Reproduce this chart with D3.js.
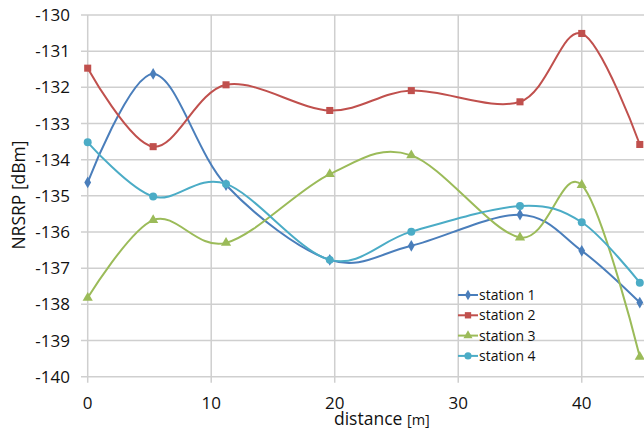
<!DOCTYPE html>
<html><head><meta charset="utf-8">
<script src="https://cdn.jsdelivr.net/npm/d3@7"></script>
<style>body{margin:0;background:#fff}svg{display:block}text{font-family:"Open Sans",sans-serif;fill:#111}</style>
</head><body><svg id="c" width="644" height="432"></svg>
<script>
const seriesNames = ["station 1","station 2","station 3","station 4"];
const colors = ["#4a7ebb","#c0504d","#9bbb59","#4bacc6"];
const symbols = ["diamond","square","triangle","circle"];
const distances = [0, 5.3, 11.2, 19.6, 26.2, 35.0, 40.0, 44.7];
const station1 = [-134.63, -131.63, -134.70, -136.77, -136.38, -135.52, -136.52, -137.95];
const station2 = [-131.47, -133.64, -131.93, -132.64, -132.09, -132.40, -130.51, -133.58];
const station3 = [-137.82, -135.67, -136.30, -134.40, -133.88, -136.15, -134.70, -139.45];
const station4 = [-133.52, -135.02, -134.67, -136.77, -135.99, -135.28, -135.73, -137.40];
const xTicks = [0,10,20,30,40];
const yTicks = [-130,-131,-132,-133,-134,-135,-136,-137,-138,-139,-140];
const allSeries = [station1, station2, station3, station4];

const svg = d3.select("#c");
const x = d3.scaleLinear().domain([0,45]).range([87.7,643.5]);
const y = d3.scaleLinear().domain([-140,-130]).range([376.7,15]);

// grid
const g = svg.append("g");
g.selectAll("line.h").data(yTicks).join("line")
  .attr("x1", 81).attr("x2", 644).attr("y1", d=>y(d)).attr("y2", d=>y(d))
  .attr("stroke", "#cfcfcf").attr("stroke-width", 1.5);
g.selectAll("line.v").data(xTicks).join("line")
  .attr("x1", d=>x(d)).attr("x2", d=>x(d)).attr("y1", y(-130)).attr("y2", y(-140)+6)
  .attr("stroke", "#cfcfcf").attr("stroke-width", 1.5);

// y axis labels
svg.append("g").selectAll("text").data(yTicks).join("text")
  .attr("x", 70).attr("y", d=>y(d)).attr("dy","0.36em")
  .attr("text-anchor","end").attr("font-size",17)
  .text(d=>String(d));
// x axis labels
svg.append("g").selectAll("text").data(xTicks).join("text")
  .attr("x", d=>x(d)).attr("y", 409).attr("text-anchor","middle").attr("font-size",17)
  .text(d=>d);

// axis titles
const xt = svg.append("text").attr("x", 334).attr("y", 425).attr("text-anchor","start");
xt.append("tspan").attr("font-size",17.5).text("distance ");
xt.append("tspan").attr("font-size",14.5).text("[m]");
svg.append("text").attr("transform","translate(25,195) rotate(-90)").attr("text-anchor","middle")
  .attr("font-size",17.5).text("NRSRP [dBm]");

// lines
const line = d3.line().x((d,i)=>x(distances[i])).y(d=>y(d)).curve(d3.curveCardinal.tension(0));
const symMap = {diamond:d3.symbolDiamond, square:d3.symbolSquare, triangle:d3.symbolTriangle, circle:d3.symbolCircle};
const symSize = {diamond:40, square:50, triangle:45, circle:50};
allSeries.forEach((s,k)=>{
  svg.append("path").attr("d", line(s)).attr("fill","none").attr("stroke",colors[k]).attr("stroke-width",2);
  svg.append("g").selectAll("path").data(s).join("path")
    .attr("transform",(d,i)=>`translate(${x(distances[i])},${y(d)})`)
    .attr("d", d3.symbol().type(symMap[symbols[k]]).size(symSize[symbols[k]]))
    .attr("fill", colors[k]);
});

// legend
const lg = svg.append("g");
seriesNames.forEach((n,k)=>{
  const yy = 295 + k*20.3;
  lg.append("line").attr("x1",458).attr("x2",478).attr("y1",yy).attr("y2",yy).attr("stroke",colors[k]).attr("stroke-width",2);
  lg.append("path").attr("transform",`translate(468,${yy})`)
    .attr("d", d3.symbol().type(symMap[symbols[k]]).size(symSize[symbols[k]]*0.8)).attr("fill",colors[k]);
  lg.append("text").attr("x",479).attr("y",yy).attr("dy","0.36em").attr("font-size",14).text(n);
});
</script></body></html>
